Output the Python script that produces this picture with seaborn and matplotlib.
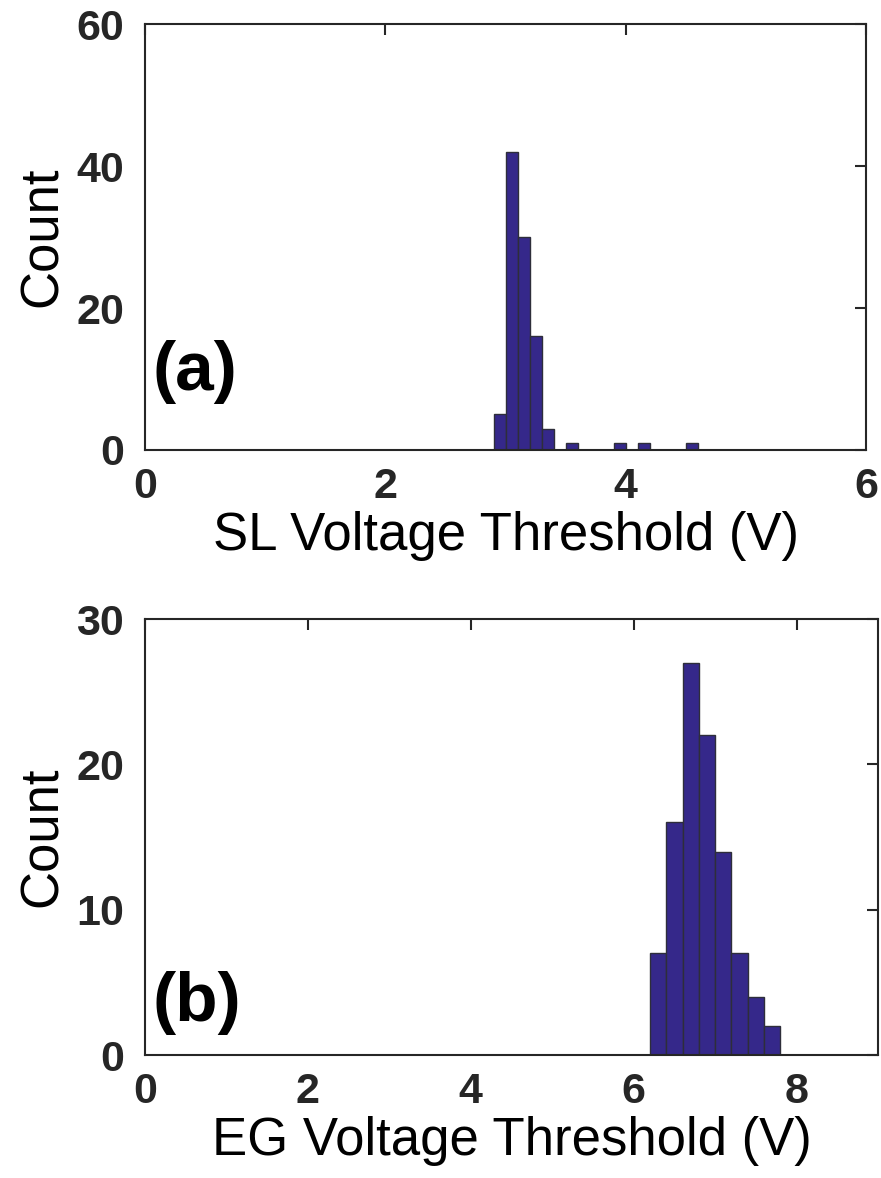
import numpy as np
import pandas as pd
import matplotlib
matplotlib.use('Agg')
import matplotlib.pyplot as plt
import seaborn as sns

# (a) SL voltage threshold histogram, bin width 0.1 V
sl_edges = [2.9, 3.0, 3.1, 3.2, 3.3, 3.4, 3.5, 3.6, 3.7, 3.8, 3.9,
            4.0, 4.1, 4.2, 4.3, 4.4, 4.5, 4.6]
sl_counts = [5, 42, 30, 16, 3, 0, 1, 0, 0, 0, 1, 0, 1, 0, 0, 0, 1]

# (b) EG voltage threshold histogram, bin width 0.2 V
eg_edges = [6.2, 6.4, 6.6, 6.8, 7.0, 7.2, 7.4, 7.6, 7.8]
eg_counts = [7, 16, 27, 22, 14, 7, 4, 2]

sl_xticks = [0, 2, 4, 6]
sl_yticks = [0, 20, 40, 60]
eg_xticks = [0, 2, 4, 6, 8]
eg_yticks = [0, 10, 20, 30]

sns.set_style('white')
plt.rcParams['font.family'] = ['Liberation Sans', 'DejaVu Sans']

bar_color = '#35288a'
edge_color = '#2e2e3a'
axis_color = '#262626'

fig = plt.figure(figsize=(8.81, 11.78), dpi=100)
ax_a = fig.add_axes([0.1646, 0.618, 0.8184, 0.3616])
ax_b = fig.add_axes([0.1646, 0.1044, 0.832, 0.3701])


def draw_panel(ax, edges, counts, xlim, ylim, xticks, yticks, xlabel, tag, tag_y):
    e = np.array(edges)
    df = pd.DataFrame({'v': (e[:-1] + e[1:]) / 2, 'n': counts})
    sns.histplot(data=df, x='v', weights='n', bins=list(edges), ax=ax,
                 color=bar_color, alpha=1, edgecolor=edge_color, linewidth=1)
    ax.set_xlim(*xlim)
    ax.set_ylim(*ylim)
    ax.set_xticks(xticks)
    ax.set_yticks(yticks)
    ax.tick_params(direction='in', length=8, width=1.5, color=axis_color,
                   top=True, right=True, labelsize=31, labelcolor=axis_color)
    ax.tick_params(axis='x', pad=12)
    ax.tick_params(axis='y', pad=15)
    for lab in ax.get_xticklabels() + ax.get_yticklabels():
        lab.set_fontweight('bold')
    for sp in ax.spines.values():
        sp.set_visible(True)
        sp.set_color(axis_color)
        sp.set_linewidth(1.5)
    ax.set_xlabel(xlabel, fontsize=38, labelpad=3, color='black')
    ax.set_ylabel('Count', fontsize=38, labelpad=6, color='black')
    ax.text(0.01, tag_y, tag, transform=ax.transAxes, fontsize=50,
            fontweight='bold', ha='left', va='center', color='black')


draw_panel(ax_a, sl_edges, sl_counts, (0, 6), (0, 60), sl_xticks, sl_yticks,
           'SL Voltage Threshold (V)', '(a)', 0.183)
draw_panel(ax_b, eg_edges, eg_counts, (0, 9), (0, 30), eg_xticks, eg_yticks,
           'EG Voltage Threshold (V)', '(b)', 0.12)

fig.savefig('out.png', dpi=100)
